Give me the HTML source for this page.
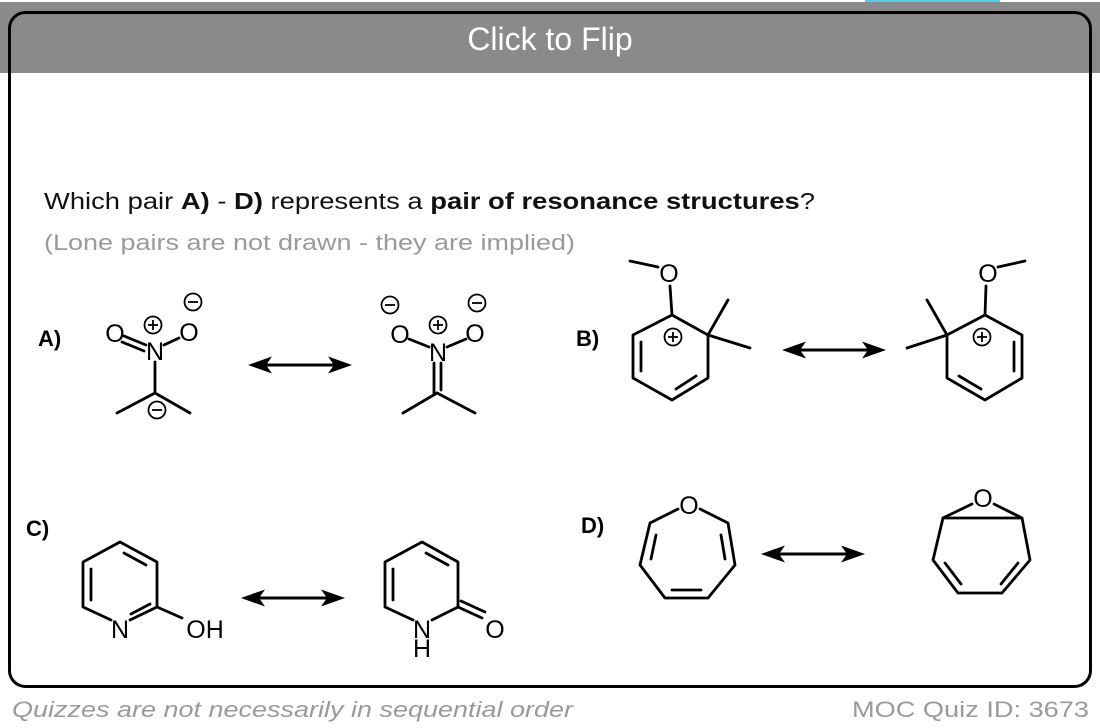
<!DOCTYPE html>
<html><head><meta charset="utf-8"><style>
html,body{margin:0;padding:0;background:#fff;}
svg{display:block;}
</style></head><body>
<svg width="1100" height="728" viewBox="0 0 1100 728" xmlns="http://www.w3.org/2000/svg" font-family="'Liberation Sans', sans-serif">
<rect x="0" y="0" width="1100" height="728" fill="#fff"/>
<rect x="0" y="2" width="1100" height="71" fill="#8a8a8a"/>
<rect x="865" y="0" width="135" height="2" fill="#4dd0e1"/>
<rect x="9.5" y="12.5" width="1081" height="674" rx="16" ry="16" fill="none" stroke="#000" stroke-width="3"/>
<text x="550" y="50" text-anchor="middle" fill="#fff" font-size="32">Click to Flip</text>

<text x="44" y="209" font-size="23" fill="#111" textLength="771" lengthAdjust="spacingAndGlyphs">Which pair  <tspan font-weight="bold">A)</tspan> - <tspan font-weight="bold">D)</tspan> represents a <tspan font-weight="bold">pair of resonance structures</tspan>?</text>
<text x="44" y="250" font-size="22" fill="#9a9a9a" textLength="531" lengthAdjust="spacingAndGlyphs">(Lone pairs are not drawn - they are implied)</text>

<g font-weight="bold" font-size="22" fill="#000">
<text x="38" y="346">A)</text>
<text x="576" y="346">B)</text>
<text x="26" y="536">C)</text>
<text x="581" y="533">D)</text>
</g>

<defs>
<g id="arr">
<line x1="14" y1="0" x2="90" y2="0" stroke="#000" stroke-width="3"/>
<path d="M0 0 L24 -8.5 L18 0 L24 8.5 Z" fill="#000"/>
<path d="M104 0 L80 -8.5 L86 0 L80 8.5 Z" fill="#000"/>
</g>
<g id="plus"><circle r="8.5" fill="#fff" stroke="#000" stroke-width="1.8"/><line x1="-5" y1="0" x2="5" y2="0" stroke="#000" stroke-width="1.8"/><line x1="0" y1="-5" x2="0" y2="5" stroke="#000" stroke-width="1.8"/></g>
<g id="minus"><circle r="8.5" fill="#fff" stroke="#000" stroke-width="1.8"/><line x1="-5" y1="0" x2="5" y2="0" stroke="#000" stroke-width="1.8"/></g>
</defs>

<use href="#arr" x="248" y="365"/>
<use href="#arr" x="782" y="350"/>
<use href="#arr" x="241" y="598"/>
<use href="#arr" x="761" y="554"/>

<g stroke="#000" stroke-width="2.8" fill="none" stroke-linecap="round" stroke-linejoin="round">
<!-- A left -->
<line x1="124" y1="336" x2="146" y2="345"/>
<line x1="122" y1="342" x2="144" y2="351"/>
<line x1="164" y1="345" x2="179" y2="338"/>
<line x1="155" y1="362" x2="155" y2="393"/>
<line x1="155" y1="393" x2="117" y2="413"/>
<line x1="155" y1="393" x2="190" y2="413"/>
<!-- A right -->
<line x1="409" y1="339" x2="429" y2="347"/>
<line x1="447" y1="347" x2="466" y2="339"/>
<line x1="434" y1="363" x2="434" y2="393"/>
<line x1="441" y1="363" x2="441" y2="390"/>
<line x1="437" y1="393" x2="403" y2="413"/>
<line x1="437" y1="393" x2="475" y2="413"/>
<!-- B left -->
<polygon points="672,315 708,335 708,378 672,400 633,378 633,335"/>
<line x1="641" y1="342" x2="641" y2="371"/>
<line x1="696" y1="376" x2="676" y2="389"/>
<line x1="672" y1="315" x2="670" y2="286"/>
<line x1="658" y1="267" x2="630" y2="261"/>
<line x1="708" y1="335" x2="728" y2="300"/>
<line x1="708" y1="335" x2="750" y2="348"/>
<!-- B right -->
<polygon points="985,315 1022,335 1022,378 985,400 947,378 947,335"/>
<line x1="1014" y1="342" x2="1014" y2="371"/>
<line x1="981" y1="389" x2="959" y2="376"/>
<line x1="985" y1="315" x2="986" y2="286"/>
<line x1="998" y1="267" x2="1025" y2="261"/>
<line x1="947" y1="335" x2="927" y2="300"/>
<line x1="947" y1="335" x2="907" y2="348"/>
<!-- C left -->
<polyline points="111,620 83,607 83,562 120,542 157,562 157,607 130,620"/>
<line x1="124" y1="553" x2="146" y2="565"/>
<line x1="91" y1="569" x2="91" y2="600"/>
<line x1="131" y1="614" x2="150" y2="604"/>
<line x1="157" y1="607" x2="182" y2="618"/>
<!-- C right -->
<polyline points="413,620 385,607 385,562 422,542 458,562 458,607 432,620"/>
<line x1="426" y1="553" x2="448" y2="565"/>
<line x1="393" y1="569" x2="393" y2="600"/>
<line x1="458" y1="607" x2="482" y2="618"/>
<line x1="461" y1="601" x2="485" y2="612"/>
<!-- D left -->
<polyline points="678,509 650,523 640,565 665,598 708,598 735,565 728,523 700,509"/>
<line x1="656" y1="535" x2="651" y2="559"/>
<line x1="721" y1="535" x2="725" y2="559"/>
<line x1="672" y1="590" x2="701" y2="590"/>
<!-- D right -->
<polyline points="972,504 943,518 933,560 958,593 1002,593 1030,560 1022,518 994,504"/>
<line x1="943" y1="518" x2="1022" y2="518"/>
<line x1="945" y1="563" x2="961" y2="584"/>
<line x1="1018" y1="563" x2="1001" y2="584"/>
</g>

<g font-size="25" fill="#000" text-anchor="middle">
<text x="115" y="342">O</text>
<text x="155" y="360">N</text>
<text x="189" y="341">O</text>
<text x="400" y="343">O</text>
<text x="438" y="361">N</text>
<text x="475" y="342">O</text>
<text x="669" y="282">O</text>
<text x="988" y="282">O</text>
<text x="120" y="638">N</text>
<text x="205" y="638">OH</text>
<text x="422" y="638">N</text>
<text x="422" y="657">H</text>
<text x="495" y="638">O</text>
<text x="689" y="514">O</text>
<text x="983" y="507">O</text>
</g>

<use href="#plus" x="153" y="325"/>
<use href="#minus" x="193" y="302"/>
<use href="#minus" x="157" y="410"/>
<use href="#plus" x="438" y="325"/>
<use href="#minus" x="390" y="305"/>
<use href="#minus" x="477" y="303"/>
<use href="#plus" x="673" y="337"/>
<use href="#plus" x="982" y="337"/>

<text x="12" y="717" font-size="22" font-style="italic" fill="#9a9a9a" textLength="561" lengthAdjust="spacingAndGlyphs">Quizzes are not necessarily in sequential order</text>
<text x="1089" y="717" font-size="22" fill="#9a9a9a" text-anchor="end" textLength="237" lengthAdjust="spacingAndGlyphs">MOC Quiz ID: 3673</text>
</svg>
</body></html>
